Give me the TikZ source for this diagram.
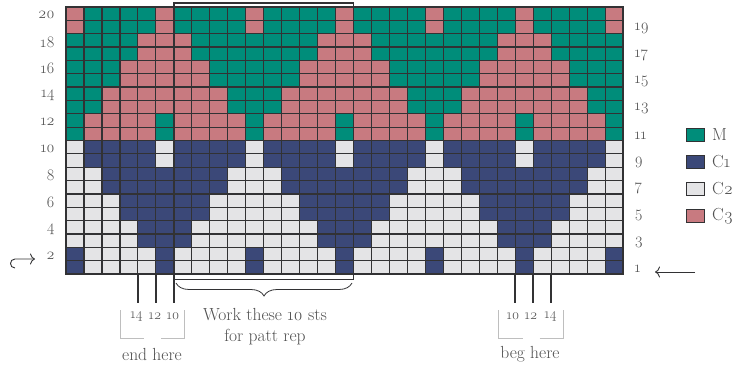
\documentclass[tikz,border=0pt]{standalone}
\usepackage{fontspec}
\setmainfont{Latin Modern Roman}[Numbers=OldStyle]
\usetikzlibrary{decorations.pathreplacing,arrows.meta}
\definecolor{cgreen}{RGB}{0,141,122}
\definecolor{cnavy}{RGB}{59,72,120}
\definecolor{clight}{RGB}{228,228,230}
\definecolor{cpink}{RGB}{200,122,128}
\definecolor{gridc}{RGB}{50,50,52}
\definecolor{txt}{RGB}{80,80,80}
\definecolor{brk}{RGB}{190,190,190}
\begin{document}
\begin{tikzpicture}[x=1pt,y=-1pt,
  gridline/.style={draw=gridc,line width=1.2pt},
  border/.style={draw=gridc,line width=2.4pt},
  boxline/.style={draw=gridc,line width=1.8pt},
  tick/.style={draw=gridc,line width=1.5pt},
  bracket/.style={draw=brk,line width=0.9pt},
  num/.style={text=txt,font=\fontsize{16}{16}\selectfont,inner sep=0pt},
  sub/.style={text=txt,font=\fontsize{14.5}{15}\selectfont,inner sep=0pt},
  note/.style={text=txt,font=\fontsize{17.5}{21}\selectfont,inner sep=0pt,align=center},
  key/.style={text=txt,font=\fontsize{17.5}{18}\selectfont,inner sep=0pt,anchor=west},
  legbox/.style={draw=gridc,line width=1.3pt,minimum width=18pt,minimum height=13pt,inner sep=0pt},
  arr/.style={draw=gridc,line width=0.9pt,-{To[length=5pt,width=11pt]}}]
\useasboundingbox (0,0) rectangle (735,366);
\def\cw{17.97}\def\ch{13.35}
% cells
\foreach \r in {1,...,20}{
  \foreach \c in {1,...,31}{
    \pgfmathtruncatemacro\mm{mod(\c+4,10)}
    \pgfmathtruncatemacro\dd{min(\mm,10-\mm)}
    \pgfmathtruncatemacro\pp{\r>10 ? ceil((\r-10)/2) : 6-ceil(\r/2)}
    \pgfmathtruncatemacro\on{(\pp==1)*(\dd>=1)*(\dd<=4)+(\pp>1)*(\pp<5)*(\dd<=5-\pp)+(\pp==5)*((\dd==0)+(\dd==5))}
    \ifnum\r>10
      \ifnum\on=1 \def\fc{cpink}\else\def\fc{cgreen}\fi
    \else
      \ifnum\on=1 \def\fc{cnavy}\else\def\fc{clight}\fi
    \fi
    \fill[\fc] ({66+(\c-1)*\cw},{7+(20-\r)*\ch}) rectangle ++(\cw,\ch);
  }
}
% grid lines
\foreach \c in {1,...,30}{\draw[gridline] ({66+\c*\cw},7) -- ({66+\c*\cw},274);}
\foreach \r in {1,...,19}{\draw[gridline] (66,{7+\r*\ch}) -- (623.07,{7+\r*\ch});}
\draw[border] (66,7) rectangle (623.07,274);
% repeat box
\draw[boxline] (173.8,3) rectangle (353.5,279.5);
\draw[decorate,decoration={brace,mirror,amplitude=13pt},draw=gridc,line width=0.8pt] (176,283) -- (352,283);
% ticks
\coordinate (e14) at (137.9,274);\coordinate (e12) at (155.9,274);\coordinate (e10) at (173.8,274);
\coordinate (b10) at (515.2,274);\coordinate (b12) at (533.2,274);\coordinate (b14) at (551.1,274);
\foreach \n in {e14,e12,e10,b10,b12,b14}{\draw[tick] (\n) -- ++(0,29);}
% numbers under ticks
\node[sub] (ne14) at (136.5,316) {14};
\node[sub] (ne12) at (155,316) {12};
\node[sub] (ne10) at (173,316) {10};
\node[sub] (nb10) at (513,316) {10};
\node[sub] (nb12) at (531,316) {12};
\node[sub] (nb14) at (550.5,316) {14};
% brackets
\draw[bracket] (120,310) -- (120,338) -- (144,338);
\draw[bracket] (161,338) -- (184.5,338) -- (184.5,310);
\draw[bracket] (498.5,310) -- (498.5,338) -- (523,338);
\draw[bracket] (539.5,338) -- (563,338) -- (563,310);
\node[note] (endh) at (152,354) {end here};
\node[note] (begh) at (530,354) {beg here};
\node[note] (work) at (265,326.5) {Work these 10 sts\\for patt rep};
% row numbers
\foreach \r in {2,4,...,20}{\node[num,anchor=east] (L\r) at (55,{7+(20-\r)*\ch+6.7+1.5}) {\r};}
\foreach \r in {1,3,...,19}{\node[num,anchor=west] (R\r) at (634.5,{7+(20-\r)*\ch+6.7+1.5}) {\r};}
% arrows
\coordinate (ra0) at (695,272);\coordinate (ra1) at (655,272);
\draw[arr] (ra0) -- (ra1);
\coordinate (la0) at (15,268);\coordinate (la1) at (15,259);\coordinate (la2) at (35,259);
\draw[arr] (la0) to[out=180,in=180,looseness=1.7] (la1) -- (la2);
% legend
\node[legbox,fill=cgreen] (kM) at (695.5,135) {};
\node[legbox,fill=cnavy] (kC1) at (695.5,162) {};
\node[legbox,fill=clight] (kC2) at (695.5,189) {};
\node[legbox,fill=cpink] (kC3) at (695.5,216) {};
\node[key] (tM) at (712,135) {M};
\node[key] (tC1) at (712,162) {C1};
\node[key] (tC2) at (712,189) {C2};
\node[key] (tC3) at (712,216) {C3};
\end{tikzpicture}
\end{document}
